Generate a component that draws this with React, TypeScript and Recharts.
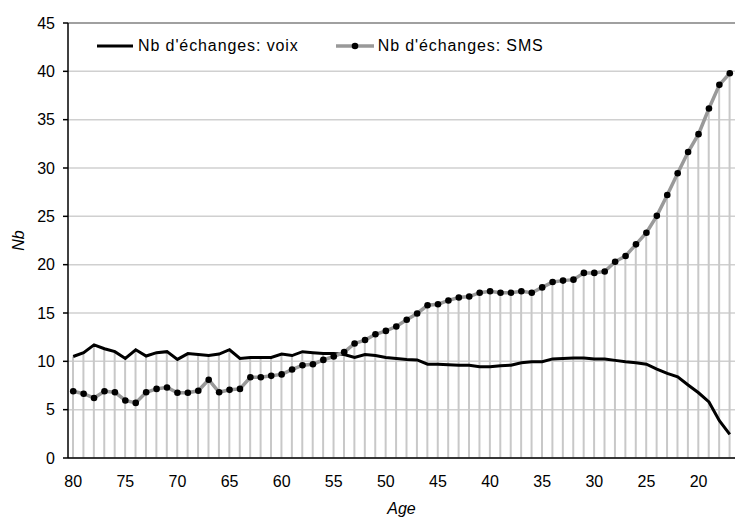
import React from 'react';
import { ComposedChart, Line, Bar, XAxis, YAxis, CartesianGrid, ReferenceLine, Legend } from 'recharts';

const ages = [80,79,78,77,76,75,74,73,72,71,70,69,68,67,66,65,64,63,62,61,60,59,58,57,56,55,54,53,52,51,50,49,48,47,46,45,44,43,42,41,40,39,38,37,36,35,34,33,32,31,30,29,28,27,26,25,24,23,22,21,20,19,18,17];

const voix = [10.5,10.9,11.7,11.3,11.0,10.3,11.2,10.55,10.9,11.0,10.2,10.8,10.7,10.6,10.75,11.2,10.3,10.4,10.4,10.4,10.75,10.6,11.0,10.9,10.8,10.8,10.7,10.4,10.7,10.6,10.4,10.3,10.2,10.15,9.7,9.7,9.65,9.6,9.6,9.45,9.45,9.55,9.6,9.85,9.95,9.95,10.25,10.3,10.35,10.35,10.25,10.25,10.1,9.95,9.85,9.7,9.2,8.75,8.4,7.55,6.75,5.8,3.85,2.45];

const sms = [6.9,6.65,6.2,6.9,6.8,5.95,5.7,6.8,7.15,7.3,6.75,6.75,6.95,8.1,6.8,7.05,7.15,8.35,8.35,8.5,8.65,9.15,9.6,9.7,10.15,10.5,10.95,11.85,12.2,12.8,13.15,13.6,14.3,14.95,15.8,15.9,16.3,16.6,16.7,17.1,17.25,17.1,17.1,17.25,17.1,17.65,18.2,18.35,18.45,19.15,19.15,19.3,20.3,20.9,22.1,23.3,25.05,27.2,29.45,31.65,33.5,36.15,38.6,39.8];

const yTicks = [0,5,10,15,20,25,30,35,40,45];
const seriesNames = ["Nb d'échanges: voix", "Nb d'échanges: SMS"];

const data = ages.map((age, i) => ({
  age,
  voix: voix[i],
  sms: sms[i],
  drop: Math.max(voix[i], sms[i]),
}));

const FONT = '"Liberation Sans", Arial, sans-serif';

const renderLegend = () => (
  <div style={{ display: 'flex', alignItems: 'center', fontFamily: FONT, fontSize: 16, letterSpacing: 0.9, color: '#000', lineHeight: '20px', whiteSpace: 'nowrap' }}>
    <svg width={36} height={20} style={{ display: 'block' }}>
      <line x1={0} x2={36} y1={10} y2={10} stroke="#000" strokeWidth={3} />
    </svg>
    <span style={{ marginLeft: 5 }}>{seriesNames[0]}</span>
    <svg width={38} height={20} style={{ display: 'block', marginLeft: 37 }}>
      <line x1={0} x2={38} y1={10} y2={10} stroke="#999" strokeWidth={3.5} />
      <circle cx={19} cy={10} r={3.3} fill="#000" />
    </svg>
    <span style={{ marginLeft: 4 }}>{seriesNames[1]}</span>
  </div>
);

const YLabel = (props: any) => {
  const { x, y, height } = props.viewBox;
  const cx = x + 18;
  const cy = y + height / 2;
  return (
    <text x={cx} y={cy} transform={`rotate(-90 ${cx} ${cy})`} textAnchor="middle" dominantBaseline="central" fontFamily={FONT} fontSize={16} fontStyle="italic" fill="#000">Nb</text>
  );
};

const XLabel = (props: any) => {
  const { x, y, width } = props.viewBox;
  const cx = x + width / 2;
  const cy = y + 50;
  return (
    <text x={cx} y={cy} textAnchor="middle" dominantBaseline="central" fontFamily={FONT} fontSize={16} fontStyle="italic" fill="#000">Age</text>
  );
};

export default function App() {
  return (
    <div style={{ position: 'absolute', left: 0, top: 0, width: 735, height: 522, background: '#fff' }}>
      <ComposedChart width={735} height={522} data={data} margin={{ top: 23, right: 0, bottom: 0, left: 0 }}>
        <CartesianGrid vertical={false} stroke="#d0d0d0" strokeWidth={1.5} />
        <XAxis
          dataKey="age"
          type="category"
          height={64}
          interval={4}
          tickLine={false}
          tickSize={8}
          tickMargin={10}
          axisLine={{ stroke: '#000', strokeWidth: 1.5 }}
          tick={{ fill: '#000', fontSize: 16, fontFamily: FONT }}
          label={<XLabel />}
        />
        <YAxis
          domain={[0, 45]}
          ticks={yTicks}
          width={68}
          tickSize={5}
          tickMargin={8}
          interval={0}
          tickLine={{ stroke: '#000', strokeWidth: 1.5 }}
          axisLine={{ stroke: '#000', strokeWidth: 1.5 }}
          tick={{ fill: '#000', fontSize: 16, fontFamily: FONT }}
          label={<YLabel />}
        />
        <ReferenceLine y={45} stroke="#8c8c8c" strokeWidth={1.5} />
        <Bar dataKey="drop" barSize={2} fill="#c8c8c8" isAnimationActive={false} legendType="none" />
        <Line type="linear" dataKey="voix" name={seriesNames[0]} stroke="#000" strokeWidth={3} dot={false} isAnimationActive={false} />
        <Line type="linear" dataKey="sms" name={seriesNames[1]} stroke="#999" strokeWidth={3.5} dot={{ r: 3.3, fill: '#000', stroke: '#000', strokeWidth: 0 }} isAnimationActive={false} />
        <Legend layout="horizontal" verticalAlign="middle" align="center" content={renderLegend} wrapperStyle={{ position: 'absolute', top: 36, left: 97, width: 'auto' }} />
      </ComposedChart>
    </div>
  );
}
